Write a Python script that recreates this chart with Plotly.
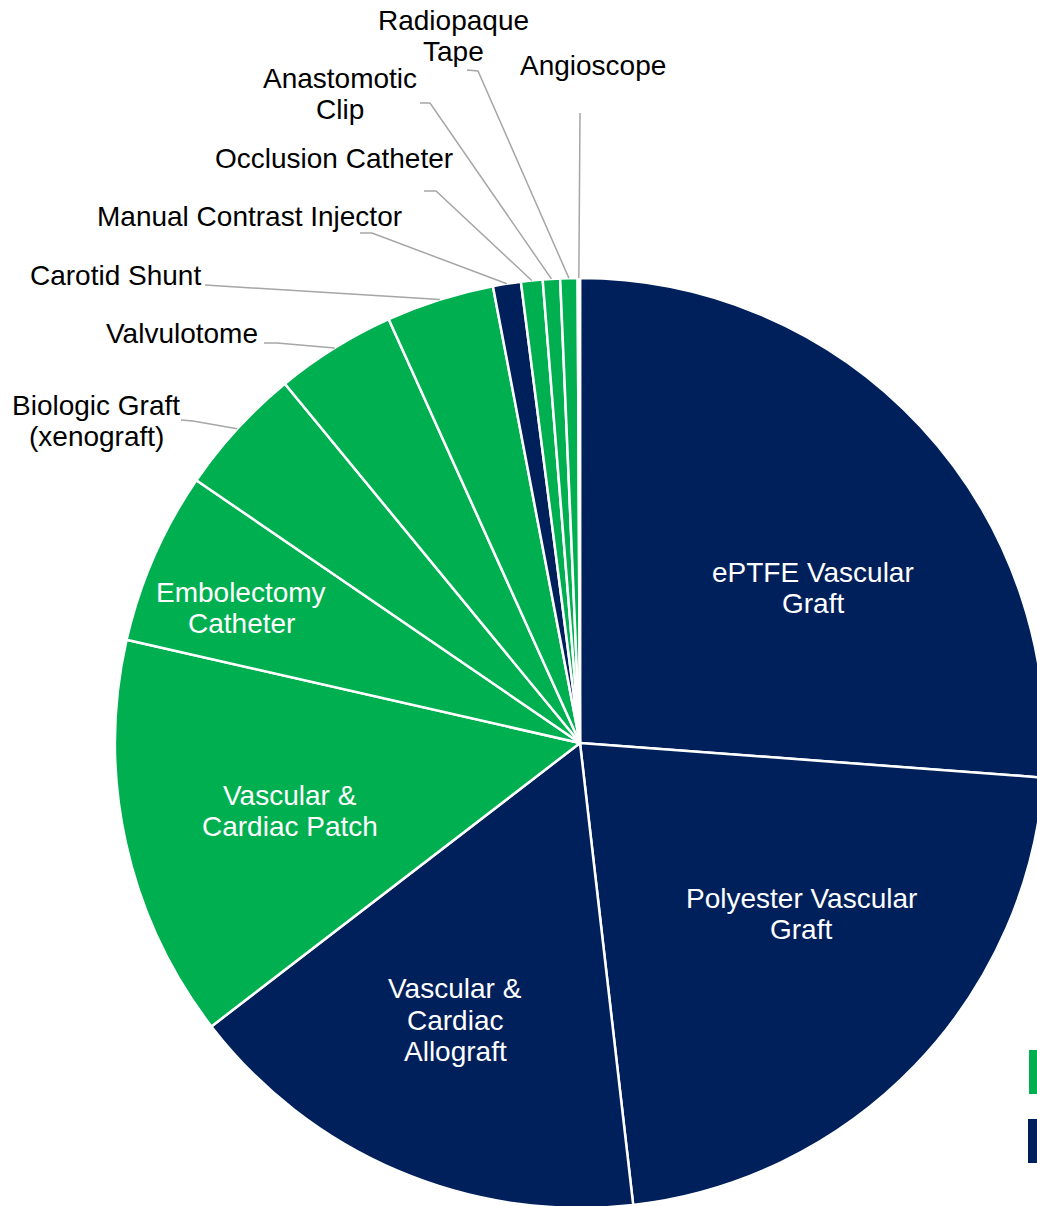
import plotly.graph_objects as go
import numpy as np

# Dados (participação aproximada em %)
categorias = [
    "ePTFE Vascular Graft",
    "Polyester Vascular Graft",
    "Vascular & Cardiac Allograft",
    "Vascular & Cardiac Patch",
    "Embolectomy Catheter",
    "Biologic Graft (xenograft)",
    "Valvulotome",
    "Carotid Shunt",
    "Manual Contrast Injector",
    "Occlusion Catheter",
    "Anastomotic Clip",
    "Radiopaque Tape",
    "Angioscope",
]
valores = [26.2, 22.0, 16.4, 14.0, 6.0, 4.5, 4.2, 3.75, 0.97, 0.75, 0.6, 0.6, 0.08]
grupo = ["navy", "navy", "navy", "green", "green", "green", "green", "green",
         "navy", "green", "green", "green", "green"]

# textos dos rótulos (quebras de linha como no original)
rotulos = [
    "ePTFE Vascular\nGraft",
    "Polyester Vascular\nGraft",
    "Vascular &\nCardiac\nAllograft",
    "Vascular &\nCardiac Patch",
    "Embolectomy\nCatheter",
    "Biologic Graft\n(xenograft)",
    "Valvulotome",
    "Carotid Shunt",
    "Manual Contrast Injector",
    "Occlusion Catheter",
    "Anastomotic\nClip",
    "Radiopaque\nTape",
    "Angioscope",
]

NAVY = "#00205B"
GREEN = "#00B050"
cores = {"navy": NAVY, "green": GREEN}

# a figura é um pouco maior que a janela (a pizza sai pela direita e por baixo)
W, H = 1060, 1222
CX, CY = 580, 743   # centro da pizza na tela (px)
R = 465             # raio (px)


def px(x, y):
    return x / W, 1 - y / H


# posições dos rótulos (centro do texto em px) e cor do texto
pos_rotulos = {
    0: (813, 588, "white"),
    1: (801, 914, "white"),
    2: (455, 1020, "white"),
    3: (290, 811, "white"),
    4: (241, 608, "white"),
    5: (96, 421, "black"),
    6: (182, 333, "black"),
    7: (115, 275, "black"),
    8: (249, 217, "black"),
    9: (334, 159, "black"),
    10: (340, 94, "black"),
    11: (453, 36, "black"),
    12: (593, 65, "black"),
}

# início das linhas guia (lado do texto), em px
guias = {
    5: [(181, 420), (193, 421)],
    6: [(264, 343), (277, 343)],
    7: [(205, 285)],
    8: [(360, 233), (372, 233)],
    9: [(424, 191), (436, 191)],
    10: [(420, 103), (430, 103)],
    11: [(467, 70), (478, 71)],
    12: [(580, 113)],
}

x0, y1 = px(CX - R, CY - R)
x1, y0 = px(CX + R, CY + R)

fig = go.Figure()
fig.add_trace(go.Pie(
    labels=categorias,
    values=valores,
    sort=False,
    direction="clockwise",
    rotation=0,
    textinfo="none",
    hoverinfo="label+percent",
    marker=dict(colors=[cores[g] for g in grupo], line=dict(color="white", width=2.5)),
    domain=dict(x=[x0, x1], y=[y0, y1]),
    showlegend=False,
))

# ângulos médios de cada fatia (a partir das 12h, sentido horário)
frac = np.array(valores) / np.sum(valores)
fim = np.cumsum(frac) * 360
meio = fim - frac * 180

shapes = []
for i, pts in guias.items():
    ang = np.radians(meio[i])
    ex = CX + R * np.sin(ang)
    ey = CY - R * np.cos(ang)
    caminho = pts + [(ex, ey)]
    d = ""
    for k, (a, b) in enumerate(caminho):
        u, v = px(a, b)
        d += ("M" if k == 0 else " L") + f"{u:.5f},{v:.5f}"
    shapes.append(dict(type="path", path=d, xref="paper", yref="paper",
                       line=dict(color="#A6A6A6", width=1.5)))

# quadrados da legenda (cortados na borda direita)
for (a, b, c, d), cor in [((1029, 1050, 1052, 1094), GREEN), ((1028, 1119, 1052, 1163), NAVY)]:
    u0, v0 = px(a, d)
    u1, v1 = px(c, b)
    shapes.append(dict(type="rect", xref="paper", yref="paper", x0=u0, x1=u1, y0=v0, y1=v1,
                       fillcolor=cor, line=dict(width=0)))

annotations = []
LINHA = 31.5
for i, txt in enumerate(rotulos):
    x, y, cor = pos_rotulos[i]
    linhas = txt.split("\n")
    topo = y - LINHA * (len(linhas) - 1) / 2
    for k, l in enumerate(linhas):
        u, v = px(x, topo + k * LINHA)
        annotations.append(dict(
            x=u, y=v, xref="paper", yref="paper", text=l, showarrow=False,
            xanchor="center", yanchor="middle",
            font=dict(family="Liberation Sans, Arial, sans-serif", size=28, color=cor),
        ))

fig.update_layout(
    width=W,
    height=H,
    margin=dict(l=0, r=0, t=0, b=0),
    paper_bgcolor="white",
    plot_bgcolor="white",
    shapes=shapes,
    annotations=annotations,
)

# sem margem da página e sem barras de rolagem
fig.write_html(
    "out.html",
    config={"displayModeBar": False},
    post_script="document.documentElement.style.overflow='hidden';"
                "document.body.style.overflow='hidden';"
                "document.body.style.margin='0';",
)
